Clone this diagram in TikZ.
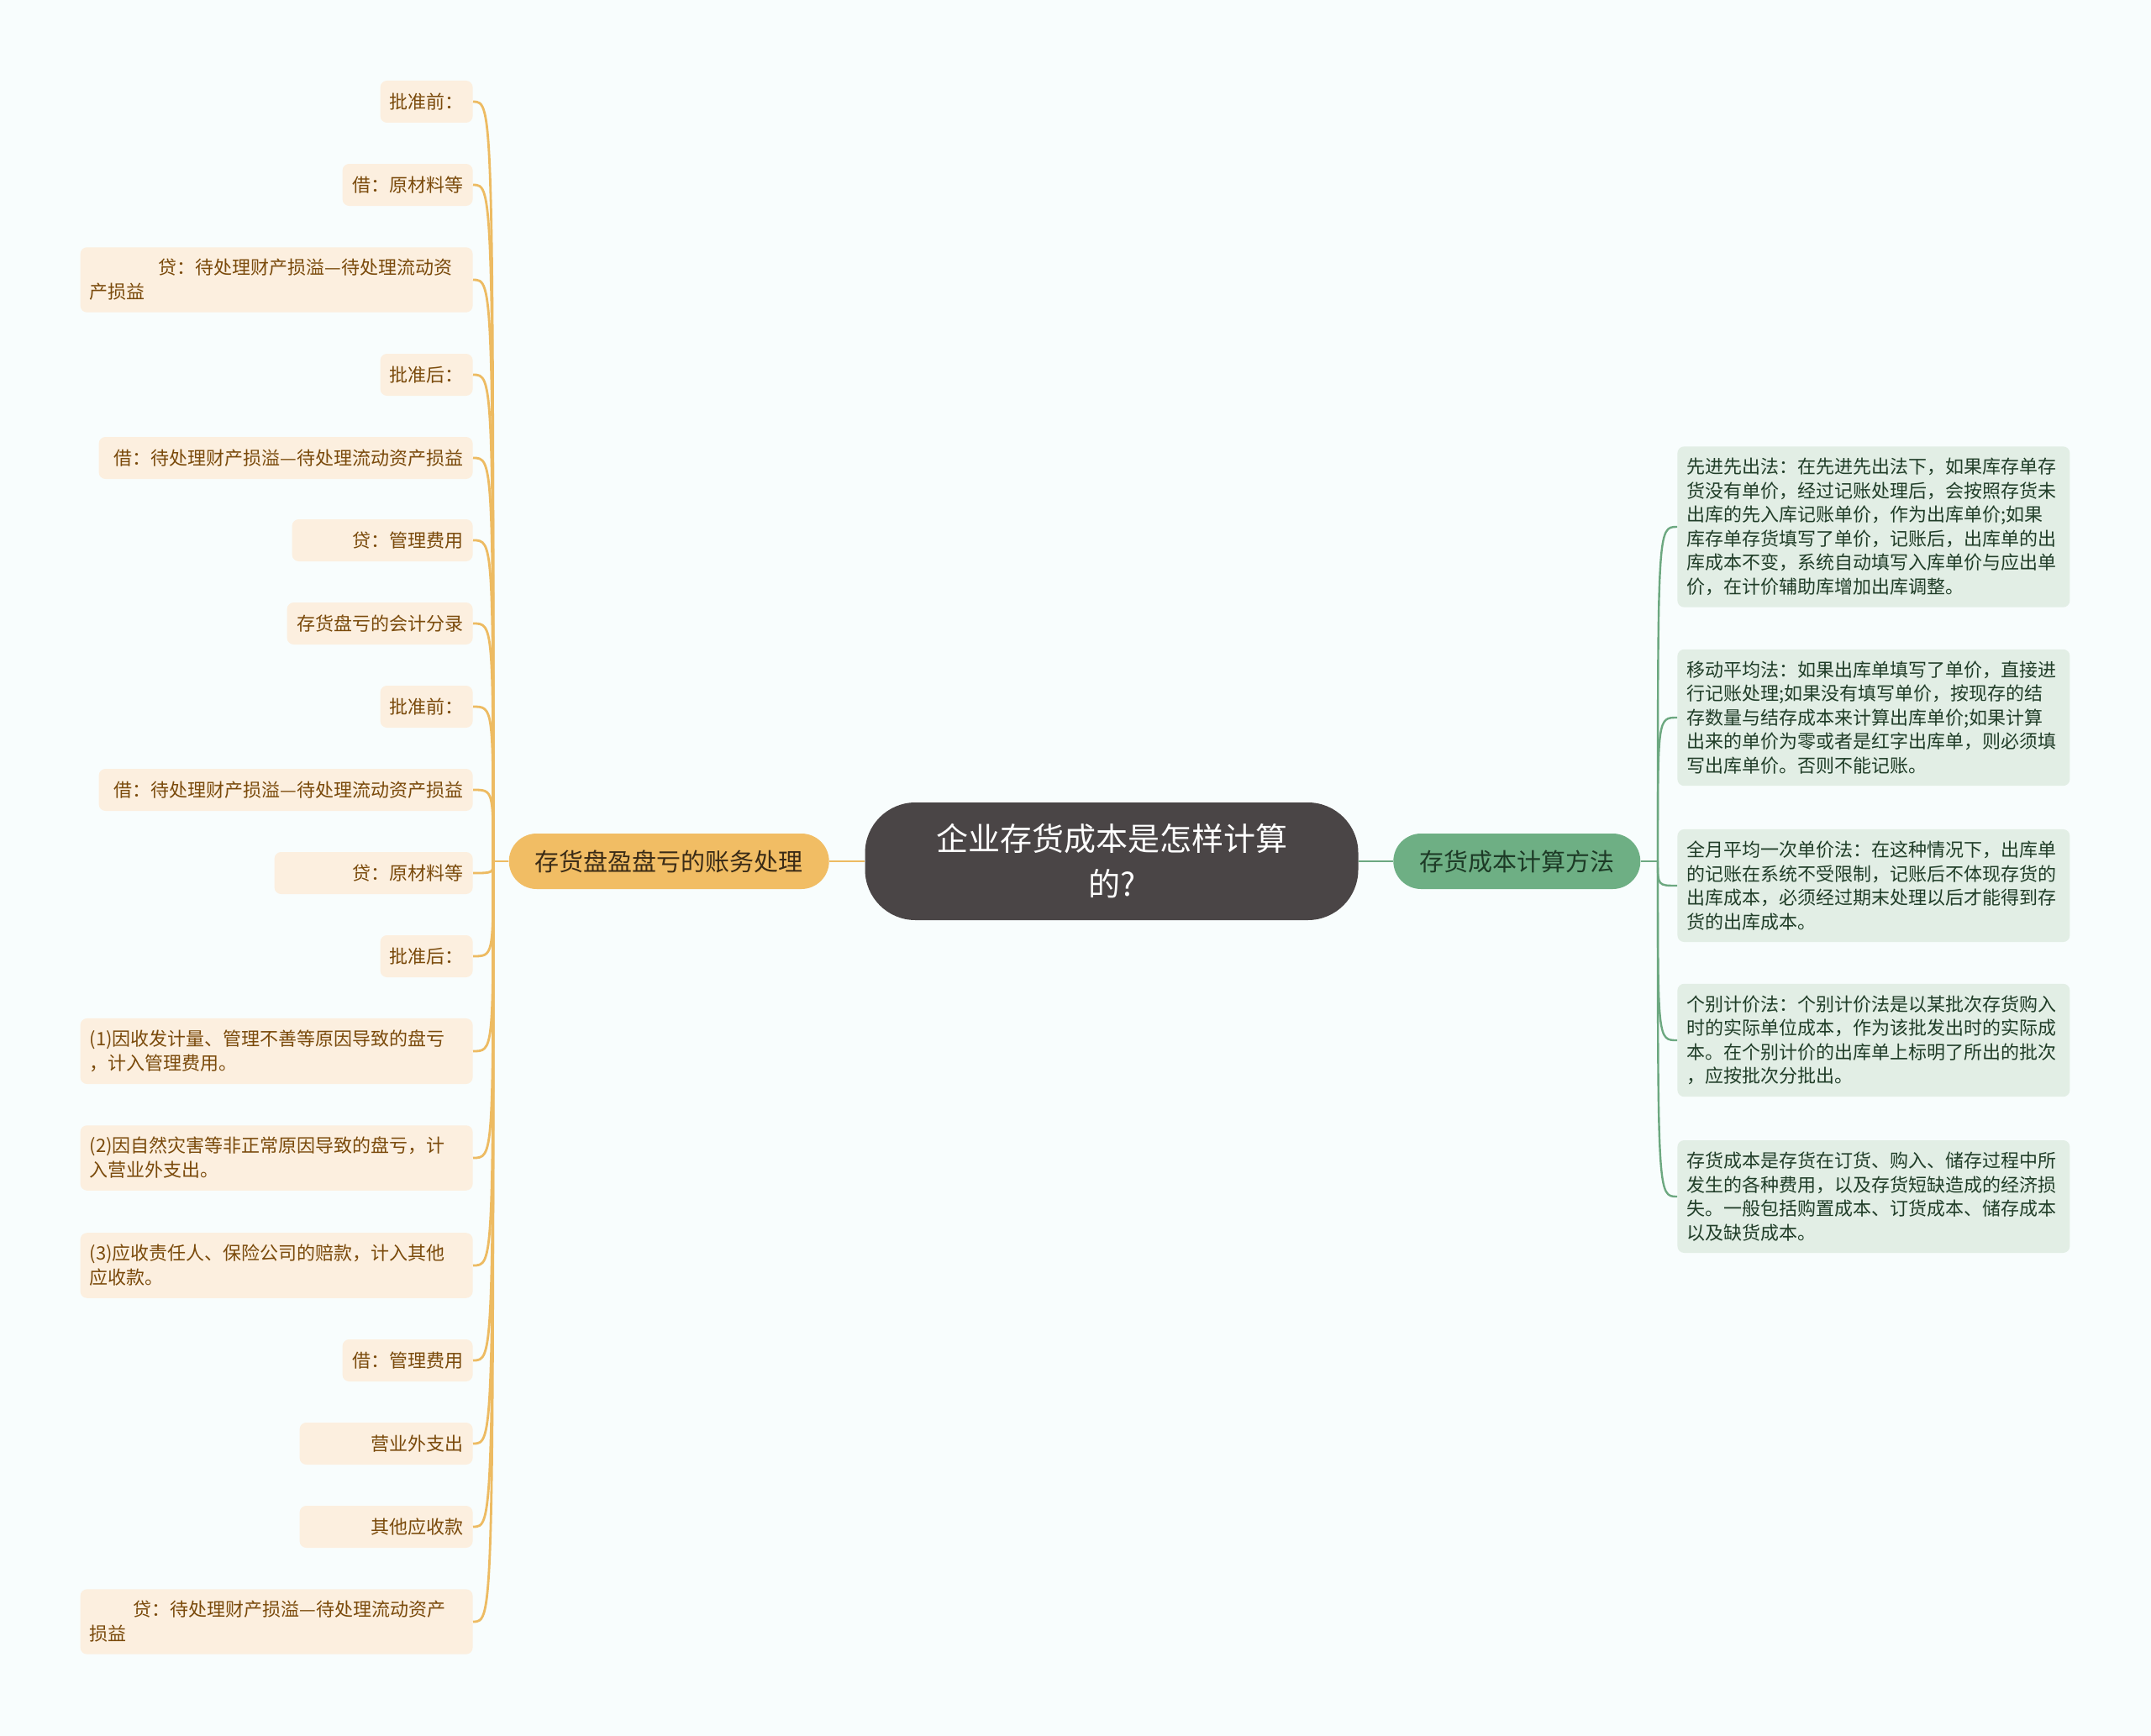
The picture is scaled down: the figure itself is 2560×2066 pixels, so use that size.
\documentclass[tikz,border=0pt]{standalone}
\usepackage{fontspec}
\setmainfont{Noto Sans CJK SC}
\usepackage{xcolor}
\usetikzlibrary{positioning}

\definecolor{bgc}{HTML}{F8FDFD}
\definecolor{rootc}{HTML}{4A4546}
\definecolor{lbrc}{HTML}{F1BD64}
\definecolor{lbrt}{HTML}{3A2B16}
\definecolor{rbrc}{HTML}{6EAF84}
\definecolor{rbrt}{HTML}{1D3A26}
\definecolor{lleafc}{HTML}{FCEFDF}
\definecolor{lleaft}{HTML}{7A4A0B}
\definecolor{rleafc}{HTML}{E2EEE5}
\definecolor{rleaft}{HTML}{203D28}
\definecolor{llinec}{HTML}{EDBB62}
\definecolor{rlinec}{HTML}{6CA880}

\begin{document}
\begin{tikzpicture}[
  x=0.5pt, y=-0.5pt,
  root/.style={fill=rootc, text=white, rounded corners=30pt, minimum width=293.5pt, minimum height=70pt, align=center, font=\fontsize{19}{27}\selectfont},
  lbr/.style={fill=lbrc, text=lbrt, rounded corners=16.5pt, minimum height=33pt, inner xsep=15.5pt, font=\fontsize{14.5}{17}\selectfont},
  rbr/.style={lbr, fill=rbrc, text=rbrt},
  lleaf/.style={fill=lleafc, text=lleaft, rounded corners=4pt, anchor=east, inner xsep=5.5pt, inner ysep=7pt, minimum height=25pt, text width=#1, align=right, font=\fontsize{11}{14.5}\selectfont},
  lleafm/.style={lleaf=222.5pt, align=left},
  rleaf/.style={fill=rleafc, text=rleaft, rounded corners=4pt, anchor=west, inner xsep=5.5pt, inner ysep=7pt, text width=222.5pt, align=left, font=\fontsize{11}{14.25}\selectfont},
  lline/.style={draw=llinec, line width=1.4pt},
  rline/.style={draw=rlinec, line width=1.2pt}
]
  \fill[bgc] (0,0) rectangle (2560,2066);
  \useasboundingbox (0,0) rectangle (2560,2066);

  \node[root] (root) at (1323,1025) {企业存货成本是怎样计算\\的?};
  \node[lbr, left=21pt of root] (lb) {存货盘盈盘亏的账务处理};
  \node[rbr, right=20.5pt of root] (rb) {存货成本计算方法};

  \coordinate (lj) at (587,1025);
  \coordinate (rj) at (1973,1025);

  % left side
  \node[lleaf=44pt] (l1) at (563,121) {批准前：};
  \node[lleaf=66.5pt] (l2) at (563,220) {借：原材料等};
  \node[lleafm] (l3) at (563,333) {\hspace*{41pt}贷：待处理财产损溢—待处理流动资\\产损益};
  \node[lleaf=44pt] (l4) at (563,446) {批准后：};
  \node[lleaf=211.5pt] (l5) at (563,545) {借：待处理财产损溢—待处理流动资产损益};
  \node[lleaf=96.5pt] (l6) at (563,643) {贷：管理费用};
  \node[lleaf=99.5pt] (l7) at (563,742) {存货盘亏的会计分录};
  \node[lleaf=44pt] (l8) at (563,841) {批准前：};
  \node[lleaf=211.5pt] (l9) at (563,940) {借：待处理财产损溢—待处理流动资产损益};
  \node[lleaf=107pt] (l10) at (563,1039) {贷：原材料等};
  \node[lleaf=44pt] (l11) at (563,1138) {批准后：};
  \node[lleafm] (l12) at (563,1251) {(1)因收发计量、管理不善等原因导致的盘亏\\，计入管理费用。};
  \node[lleafm] (l13) at (563,1378) {(2)因自然灾害等非正常原因导致的盘亏，计\\入营业外支出。};
  \node[lleafm] (l14) at (563,1506) {(3)应收责任人、保险公司的赔款，计入其他\\应收款。};
  \node[lleaf=66.5pt] (l15) at (563,1619) {借：管理费用};
  \node[lleaf=92pt] (l16) at (563,1718) {营业外支出};
  \node[lleaf=92pt] (l17) at (563,1817) {其他应收款};
  \node[lleafm] (l18) at (563,1930) {\hspace*{26pt}贷：待处理财产损溢—待处理流动资产\\损益};

  % right side
  \node[rleaf] (r1) at (1996,627) {先进先出法：在先进先出法下，如果库存单存\\货没有单价，经过记账处理后，会按照存货未\\出库的先入库记账单价，作为出库单价;如果\\库存单存货填写了单价，记账后，出库单的出\\库成本不变，系统自动填写入库单价与应出单\\价，在计价辅助库增加出库调整。};
  \node[rleaf] (r2) at (1996,854) {移动平均法：如果出库单填写了单价，直接进\\行记账处理;如果没有填写单价，按现存的结\\存数量与结存成本来计算出库单价;如果计算\\出来的单价为零或者是红字出库单，则必须填\\写出库单价。否则不能记账。};
  \node[rleaf] (r3) at (1996,1054) {全月平均一次单价法：在这种情况下，出库单\\的记账在系统不受限制，记账后不体现存货的\\出库成本，必须经过期末处理以后才能得到存\\货的出库成本。};
  \node[rleaf] (r4) at (1996,1238) {个别计价法：个别计价法是以某批次存货购入\\时的实际单位成本，作为该批发出时的实际成\\本。在个别计价的出库单上标明了所出的批次\\，应按批次分批出。};
  \node[rleaf] (r5) at (1996,1424) {存货成本是存货在订货、购入、储存过程中所\\发生的各种费用，以及存货短缺造成的经济损\\失。一般包括购置成本、订货成本、储存成本\\以及缺货成本。};

  \draw[lline] (root.west) -- (lb.east);
  \draw[rline] (root.east) -- (rb.west);
  \draw[lline] (lb.west) -- (lj);
  \draw[rline] (rb.east) -- (rj);
  \foreach \i in {1,...,18}
    \draw[lline] (lj) .. controls (lj |- l\i.east) .. (l\i.east);
  \foreach \i in {1,...,5}
    \draw[rline] (rj) .. controls (rj |- r\i.west) .. (r\i.west);
\end{tikzpicture}
\end{document}
